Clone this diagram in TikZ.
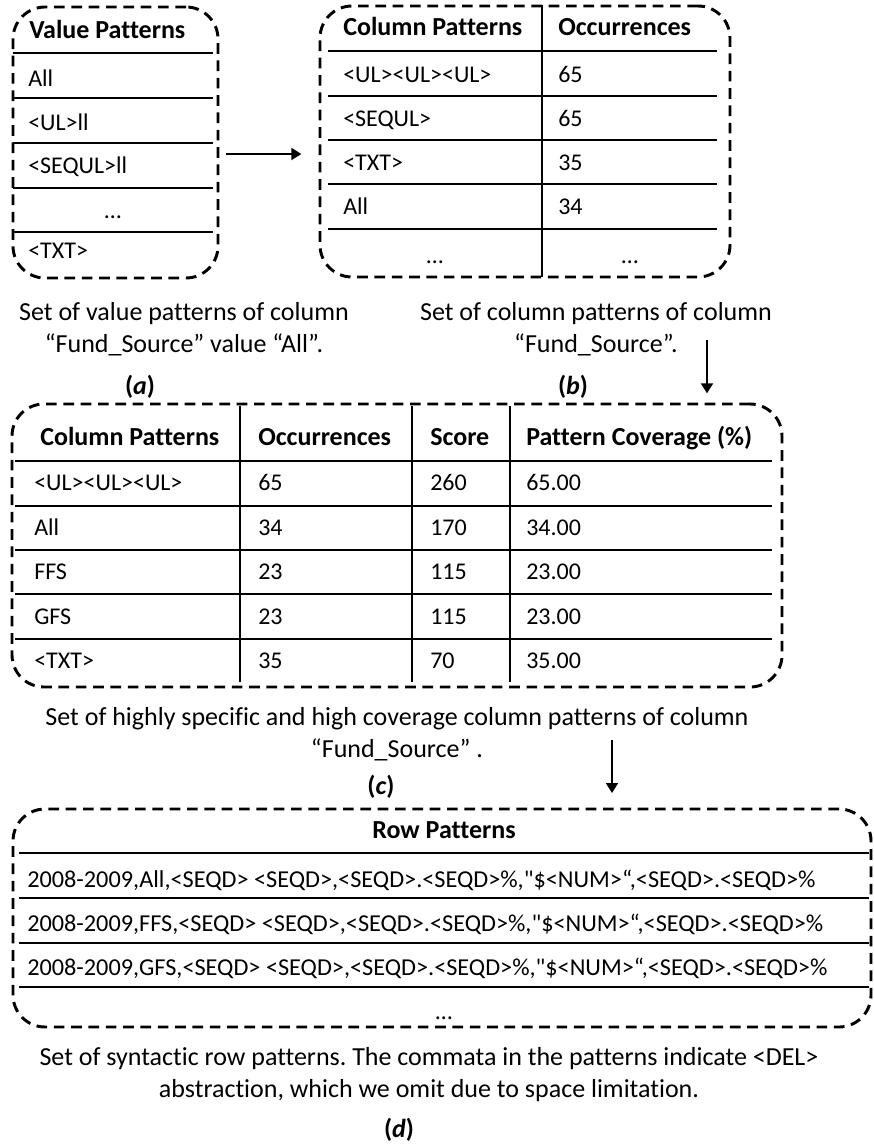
\documentclass[tikz,border=0pt]{standalone}
\usepackage{fontspec}
\setmainfont{Carlito}[Ligatures=NoCommon]
\newfontfamily\rowfont{Carlito}[Ligatures=NoCommon]
\usetikzlibrary{arrows.meta}
\frenchspacing
\begin{document}
\begin{tikzpicture}[x=0.75pt,y=-0.75pt,
  frame/.style={draw, line width=2.2pt, dash pattern=on 8pt off 5pt,
    rounded corners=24pt, inner sep=0pt, outer sep=0pt},
  rule/.style={line width=1.5pt},
  head/.style={anchor=base west, inner sep=0pt, font=\fontsize{19.5}{23}\selectfont\bfseries},
  cell/.style={anchor=base west, inner sep=0pt, font=\fontsize{18}{22}\selectfont},
  dots/.style={anchor=base, inner sep=0pt, font=\fontsize{18}{22}\selectfont},
  % multi-line captions: the base anchor sits on the last line
  caption/.style={anchor=base, inner sep=0pt, align=center, font=\fontsize{19.5}{23.5}\selectfont},
  tag/.style={anchor=base, inner sep=0pt, font=\fontsize{19.5}{23}\selectfont\bfseries},
  link/.style={line width=1.5pt, -{Triangle[length=7.5pt,width=9pt]}}]
\useasboundingbox (0,0) rectangle (874,1146);

% (a) value patterns
\node[frame, minimum width=153.75pt, minimum height=203.25pt] (va) at (115.5,142.5) {};
\foreach \y in {53,98,143,188,232} \draw[rule] (13,\y) -- (213,\y);
\node[head] (va-h) at (29,38) {Value Patterns};
\node[cell] (va-1) at (28,86) {All};
\node[cell] (va-2) at (28,130) {<UL>ll};
\node[cell] (va-3) at (28,173) {<SEQUL>ll};
\node[dots] (va-4) at (113,218) {…};
\node[cell] (va-5) at (28,258) {<TXT>};

% (b) column patterns
\node[frame, minimum width=307.5pt, minimum height=203.25pt] (vb) at (525,141.5) {};
\foreach \y in {51,96,140,184,229} \draw[rule] (328,\y) -- (717,\y);
\draw[rule] (542,5) -- (542,277);
\node[head] (vb-h1) at (343,35) {Column Patterns};
\node[head] (vb-h2) at (558,35) {Occurrences};
\node[cell] (vb-11) at (343,82) {<UL><UL><UL>};
\node[cell] (vb-12) at (558,82) {65};
\node[cell] (vb-21) at (343,126) {<SEQUL>};
\node[cell] (vb-22) at (558,126) {65};
\node[cell] (vb-31) at (343,170) {<TXT>};
\node[cell] (vb-32) at (558,170) {35};
\node[cell] (vb-41) at (343,214) {All};
\node[cell] (vb-42) at (558,214) {34};
\node[dots] (vb-51) at (435,263) {…};
\node[dots] (vb-52) at (630,263) {…};

% captions of (a) and (b)
\node[caption] (ca) at (184,352) {Set of value patterns of column\\“Fund\_Source” value “All”.};
\node[tag] (ta) at (140,394) {(\textit{a})};
\node[caption] (cb) at (596,352) {Set of column patterns of column\\“Fund\_Source”.};
\node[tag] (tb) at (573,394) {(\textit{b})};

% (c) scored column patterns
\node[frame, minimum width=577.5pt, minimum height=212.25pt] (vc) at (397,545.5) {};
\foreach \y in {461,506,550,594,639} \draw[rule] (15,\y) -- (772,\y);
\foreach \x in {240,412,510} \draw[rule] (\x,406) -- (\x,682);
\node[head] (vc-h1) at (40,445) {Column Patterns};
\node[head] (vc-h2) at (258,445) {Occurrences};
\node[head] (vc-h3) at (430,445) {Score};
\node[head] (vc-h4) at (526,445) {Pattern Coverage (\%)};
\foreach \yy/\pa/\pb/\pc/\pd [count=\i] in
  {490/<UL><UL><UL>/65/260/65.00,
   535/All/34/170/34.00,
   579/FFS/23/115/23.00,
   624/GFS/23/115/23.00,
   668/<TXT>/35/70/35.00}{
  \node[cell] (vc-\i1) at (34,\yy) {\pa};
  \node[cell] (vc-\i2) at (258,\yy) {\pb};
  \node[cell] (vc-\i3) at (430,\yy) {\pc};
  \node[cell] (vc-\i4) at (526,\yy) {\pd};
}
\node[caption] (cc) at (397,757) {Set of highly specific and high coverage column patterns of column\\“Fund\_Source” .};
\node[tag] (tc) at (381,794) {(\textit{c})};

% (d) row patterns
\node[frame, minimum width=643.5pt, minimum height=163.5pt] (vd) at (442,918) {};
\foreach \y in {853,898,943,987} \draw[rule] (19,\y) -- (869,\y);
\node[head, anchor=base] (vd-h) at (444,838) {Row Patterns};
\tikzset{rowcell/.style={cell, font=\fontsize{18.2}{22}\rowfont}}
\node[rowcell] (vd-1) at (27,887) {2008-2009,All,<SEQD> <SEQD>,<SEQD>.<SEQD>\%,"\$<NUM>“,<SEQD>.<SEQD>\%};
\node[rowcell] (vd-2) at (27,931) {2008-2009,FFS,<SEQD> <SEQD>,<SEQD>.<SEQD>\%,"\$<NUM>“,<SEQD>.<SEQD>\%};
\node[rowcell] (vd-3) at (27,975) {2008-2009,GFS,<SEQD> <SEQD>,<SEQD>.<SEQD>\%,"\$<NUM>“,<SEQD>.<SEQD>\%};
\node[dots] (vd-4) at (444,1019) {…};
\node[caption] (cd) at (429,1097) {Set of syntactic row patterns. The commata in the patterns indicate <DEL>\\abstraction, which we omit due to space limitation.};
\node[tag] (td) at (399,1137) {(\textit{d})};

% flow between the stages
\coordinate (ab) at (0,154);
\draw[link, shorten <=6pt, shorten >=14pt] (va.east |- ab) -- (vb.west |- ab);
\coordinate (bc) at (707,340);
\draw[link, shorten >=8pt] (bc) -- (bc |- vc.north);
\coordinate (cd0) at (612,740);
\draw[link, shorten >=12pt] (cd0) -- (cd0 |- vd.north);
\end{tikzpicture}
\end{document}
